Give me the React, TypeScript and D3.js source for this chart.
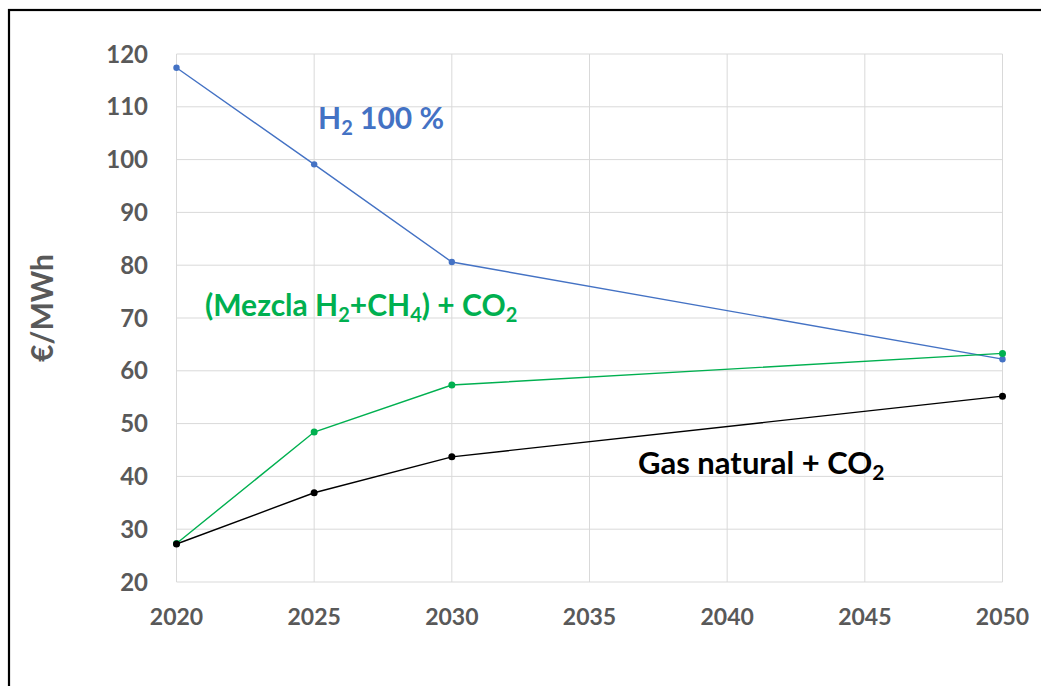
import React from "react";
import * as d3 from "d3";

const years = [2020, 2025, 2030, 2050];
const h2Values = [117.4, 99.1, 80.6, 62.2];
const mixValues = [27.3, 48.4, 57.3, 63.3];
const gasValues = [27.2, 36.9, 43.7, 55.2];
const xTicks = [2020, 2025, 2030, 2035, 2040, 2045, 2050];
const yTicks = [20, 30, 40, 50, 60, 70, 80, 90, 100, 110, 120];

const W = 1041;
const H = 686;
const FONT = "Lato, 'Open Sans', sans-serif";

export default function App() {
  const x = d3.scaleLinear().domain([2020, 2050]).range([176.5, 1002.5]);
  const y = d3.scaleLinear().domain([20, 120]).range([582, 54]);
  const line = d3
    .line<[number, number]>()
    .x((d) => x(d[0]))
    .y((d) => y(d[1]));

  const series = [
    { values: h2Values, color: "#4472C4", r: 3.2 },
    { values: mixValues, color: "#00B050", r: 3.5 },
    { values: gasValues, color: "#000000", r: 3.5 },
  ];

  return (
    <svg
      width={W}
      height={H}
      style={{ position: "absolute", left: 0, top: 0, background: "#fff" }}
      fontFamily={FONT}
    >
      <rect x={0} y={0} width={W} height={H} fill="#fff" />
      <rect x={9} y={10} width={W + 20} height={H + 20} fill="none" stroke="#000" strokeWidth={2.2} />
      {/* gridlines */}
      {yTicks.map((t) => (
        <line key={"gy" + t} x1={x(2020)} x2={x(2050)} y1={y(t)} y2={y(t)} stroke="#d9d9d9" strokeWidth={1} />
      ))}
      {xTicks.map((t) => (
        <line key={"gx" + t} x1={x(t)} x2={x(t)} y1={y(120)} y2={y(20)} stroke="#d9d9d9" strokeWidth={1} />
      ))}
      {/* y tick labels */}
      {yTicks.map((t) => (
        <text
          key={"ty" + t}
          x={148}
          y={y(t)}
          dy="0.36em"
          textAnchor="end"
          fontSize={24}
          fontWeight="bold"
          fill="#595959"
        >
          {t}
        </text>
      ))}
      {/* x tick labels */}
      {xTicks.map((t) => (
        <text
          key={"tx" + t}
          x={x(t)}
          y={625}
          textAnchor="middle"
          fontSize={23}
          fontWeight="bold"
          fill="#595959"
        >
          {t}
        </text>
      ))}
      {/* axis title */}
      <text
        transform={`translate(53,308) rotate(-90)`}
        textAnchor="middle"
        fontSize={30}
        fontWeight="bold"
        fill="#595959"
      >
        €/MWh
      </text>
      {/* series */}
      {series.map((s, i) => {
        const pts = years.map((yr, j) => [yr, s.values[j]] as [number, number]);
        return (
          <g key={"s" + i}>
            <path d={line(pts) || ""} fill="none" stroke={s.color} strokeWidth={1.4} />
            {pts.map((p, j) => (
              <circle key={j} cx={x(p[0])} cy={y(p[1])} r={s.r} fill={s.color} />
            ))}
          </g>
        );
      })}
      {/* annotations */}
      <text x={318} y={129} fontSize={30} fontWeight="bold" fill="#4472C4">
        H<tspan fontSize={20} dy={6}>2</tspan>
        <tspan dy={-6}> 100 %</tspan>
      </text>
      <text x={205} y={316} fontSize={30} fontWeight="bold" fill="#00B050">
        (Mezcla H<tspan fontSize={20} dy={6}>2</tspan>
        <tspan dy={-6}>+CH</tspan>
        <tspan fontSize={20} dy={6}>4</tspan>
        <tspan dy={-6}>) + CO</tspan>
        <tspan fontSize={20} dy={6}>2</tspan>
      </text>
      <text x={638} y={474} fontSize={31} fontWeight="bold" fill="#000">
        Gas natural + CO<tspan fontSize={21} dy={6}>2</tspan>
      </text>
    </svg>
  );
}
